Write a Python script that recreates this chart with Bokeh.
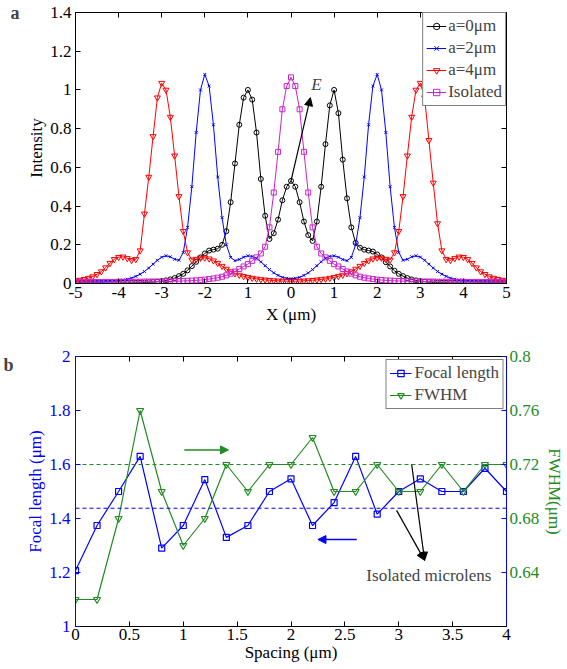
import numpy as np
from bokeh.plotting import figure
from bokeh.layouts import column
from bokeh.models import (Range1d, LinearAxis, FixedTicker, CustomJSTickFormatter,
                          Legend, LegendItem, Label, Arrow, NormalHead)
from bokeh.embed import file_html
from bokeh.resources import INLINE

FONT = "Liberation Serif"
FS = "17px"
GREEN = "#228b22"
BLUE = "#0000ff"
MAGENTA = "#cc22cc"

# ---------------- panel a data ----------------
x_pos = np.round(np.linspace(-5.0, 5.0, 101), 2)

i_a0 = [0.002, 0.002, 0.002, 0.002, 0.002, 0.002, 0.002, 0.002, 0.002, 0.002,
        0.002, 0.003, 0.003, 0.003, 0.004, 0.004, 0.005, 0.006, 0.007, 0.009,
        0.012, 0.016, 0.021, 0.028, 0.038, 0.05, 0.068, 0.09, 0.112, 0.135,
        0.155, 0.17, 0.175, 0.18, 0.20, 0.27, 0.42, 0.62, 0.82, 0.96,
        1.00, 0.95, 0.78, 0.54, 0.35, 0.23, 0.26, 0.33, 0.43, 0.50,
        0.53,
        0.50, 0.42, 0.32, 0.25, 0.22, 0.32, 0.50, 0.72, 0.92, 1.00,
        0.88, 0.64, 0.44, 0.29, 0.21, 0.185, 0.175, 0.17, 0.165, 0.15,
        0.135, 0.11, 0.088, 0.066, 0.05, 0.038, 0.028, 0.021, 0.016, 0.012,
        0.009, 0.007, 0.006, 0.005, 0.004, 0.004, 0.003, 0.003, 0.003, 0.002,
        0.002, 0.002, 0.002, 0.002, 0.002, 0.002, 0.002, 0.002, 0.002, 0.002]

i_a2 = [0.008, 0.008, 0.008, 0.009, 0.009, 0.010, 0.010, 0.011, 0.012, 0.013,
        0.015, 0.018, 0.022, 0.028, 0.037, 0.048, 0.062, 0.08, 0.10, 0.12,
        0.136, 0.143, 0.138, 0.125, 0.12, 0.16, 0.29, 0.50, 0.78, 1.00,
        1.08, 1.02, 0.82, 0.55, 0.34, 0.20, 0.135, 0.118, 0.124, 0.136,
        0.143, 0.14, 0.13, 0.112, 0.092, 0.072, 0.055, 0.042, 0.032, 0.027,
        0.025,
        0.027, 0.032, 0.042, 0.055, 0.072, 0.092, 0.112, 0.13, 0.14, 0.143,
        0.136, 0.124, 0.118, 0.135, 0.20, 0.34, 0.55, 0.82, 1.02, 1.08,
        1.00, 0.78, 0.50, 0.29, 0.16, 0.12, 0.125, 0.138, 0.143, 0.136,
        0.12, 0.10, 0.08, 0.062, 0.048, 0.037, 0.028, 0.022, 0.018, 0.015,
        0.013, 0.012, 0.011, 0.010, 0.010, 0.009, 0.009, 0.008, 0.008, 0.008]

i_a4 = [0.015, 0.018, 0.022, 0.028, 0.036, 0.048, 0.062, 0.082, 0.105, 0.125,
        0.136, 0.138, 0.13, 0.12, 0.125, 0.17, 0.36, 0.55, 0.76, 0.96,
        1.035, 1.00, 0.86, 0.66, 0.45, 0.27, 0.16, 0.122, 0.126, 0.132,
        0.133, 0.128, 0.118, 0.105, 0.09, 0.075, 0.062, 0.052, 0.044, 0.037,
        0.032, 0.028, 0.024, 0.021, 0.019, 0.017, 0.015, 0.014, 0.013, 0.012,
        0.012,
        0.012, 0.013, 0.014, 0.015, 0.017, 0.019, 0.021, 0.024, 0.028, 0.032,
        0.037, 0.044, 0.052, 0.062, 0.075, 0.09, 0.105, 0.118, 0.128, 0.133,
        0.132, 0.126, 0.122, 0.16, 0.27, 0.45, 0.66, 0.86, 1.00, 1.035,
        0.96, 0.74, 0.52, 0.31, 0.17, 0.125, 0.12, 0.13, 0.138, 0.136,
        0.125, 0.105, 0.082, 0.062, 0.048, 0.036, 0.028, 0.022, 0.018, 0.015]

i_iso = [0.008, 0.008, 0.008, 0.008, 0.008, 0.008, 0.008, 0.008, 0.008, 0.008,
         0.009, 0.009, 0.009, 0.009, 0.009, 0.009, 0.010, 0.010, 0.010, 0.010,
         0.010, 0.011, 0.011, 0.012, 0.012, 0.013, 0.014, 0.015, 0.016, 0.018,
         0.02, 0.023, 0.026, 0.03, 0.035, 0.042, 0.051, 0.062, 0.075, 0.088,
         0.10, 0.117, 0.135, 0.155, 0.19, 0.29, 0.47, 0.68, 0.90, 1.02,
         1.065,
         1.02, 0.90, 0.68, 0.47, 0.29, 0.19, 0.155, 0.135, 0.117, 0.10,
         0.088, 0.075, 0.062, 0.051, 0.042, 0.035, 0.03, 0.026, 0.023, 0.02,
         0.018, 0.016, 0.015, 0.014, 0.013, 0.012, 0.012, 0.011, 0.011, 0.010,
         0.010, 0.010, 0.010, 0.009, 0.009, 0.009, 0.009, 0.009, 0.009, 0.009,
         0.008, 0.008, 0.008, 0.008, 0.008, 0.008, 0.008, 0.008, 0.008, 0.008]

x_ticks_a = [-5, -4, -3, -2, -1, 0, 1, 2, 3, 4, 5]
y_ticks_a = [0, 0.2, 0.4, 0.6, 0.8, 1.0, 1.2, 1.4]

# ---------------- panel b data ----------------
spacing = [0.0, 0.2, 0.4, 0.6, 0.8, 1.0, 1.2, 1.4, 1.6, 1.8, 2.0,
           2.2, 2.4, 2.6, 2.8, 3.0, 3.2, 3.4, 3.6, 3.8, 4.0]
focal_length = [1.207, 1.374, 1.50, 1.63, 1.29, 1.374, 1.544, 1.33, 1.374, 1.50, 1.547,
                1.374, 1.459, 1.63, 1.416, 1.50, 1.547, 1.50, 1.50, 1.586, 1.50]
fwhm = [0.62, 0.62, 0.68, 0.76, 0.70, 0.66, 0.68, 0.72, 0.70, 0.72, 0.72,
        0.74, 0.70, 0.70, 0.72, 0.70, 0.70, 0.72, 0.70, 0.72, 0.72]
iso_focal = 1.438
iso_fwhm = 0.72
x_ticks_b = [0, 0.5, 1, 1.5, 2, 2.5, 3, 3.5, 4]
yl_ticks_b = [1, 1.2, 1.4, 1.6, 1.8, 2]
yr_ticks_b = [0.64, 0.68, 0.72, 0.76, 0.8]

# panel-letter anchor heights (annotation placement)
panel_a_at = [1.4]
panel_b_at = [1.967]

FMT = CustomJSTickFormatter(code="return String(Math.round(tick*100)/100);")
FMT_X_A = CustomJSTickFormatter(code="return tick == -1 ? '1' : String(tick);")
EMPTY = CustomJSTickFormatter(code="return '';")


def style_axis(ax, color="black", tick_standoff=4, label_standoff=1):
    ax.major_label_text_font = FONT
    ax.major_label_text_font_size = FS
    ax.major_label_text_color = color
    ax.axis_label_text_font = FONT
    ax.axis_label_text_font_size = FS
    ax.axis_label_text_font_style = "normal"
    ax.axis_label_text_color = color
    ax.axis_line_color = color
    ax.major_tick_line_color = color
    ax.major_tick_in = 5
    ax.major_tick_out = 0
    ax.minor_tick_line_color = None
    ax.minor_tick_out = 0
    ax.minor_tick_in = 0
    ax.major_label_standoff = tick_standoff
    ax.axis_label_standoff = label_standoff


def blank_axis(ticker, color="black", **kw):
    ax = LinearAxis(ticker=ticker, formatter=EMPTY, **kw)
    ax.major_label_text_font_size = "0px"
    ax.major_label_standoff = 0
    ax.major_tick_in = 5
    ax.major_tick_out = 0
    ax.minor_tick_line_color = None
    ax.minor_tick_out = 0
    ax.axis_line_color = color
    ax.major_tick_line_color = color
    return ax


def letter_axis(letter, at, standoff, **kw):
    ax = LinearAxis(ticker=FixedTicker(ticks=at),
                    formatter=CustomJSTickFormatter(code="return '%s';" % letter), **kw)
    ax.axis_line_color = None
    ax.major_tick_line_color = None
    ax.minor_tick_line_color = None
    ax.major_tick_in = 0
    ax.major_tick_out = 0
    ax.minor_tick_in = 0
    ax.minor_tick_out = 0
    ax.axis_label_standoff = 0
    ax.major_label_text_font = FONT
    ax.major_label_text_font_size = "18px"
    ax.major_label_text_font_style = "bold"
    ax.major_label_standoff = standoff
    return ax


# ---------------- figure a ----------------
p1 = figure(width=567, height=333, x_range=Range1d(-5, 5), y_range=Range1d(0, 1.4),
            output_backend="svg", toolbar_location=None,
            min_border_left=72, min_border_right=58, min_border_top=12, min_border_bottom=50)
p1.grid.visible = False
p1.outline_line_color = "black"
p1.xaxis.ticker = FixedTicker(ticks=x_ticks_a)
p1.xaxis.formatter = FMT_X_A
p1.yaxis.ticker = FixedTicker(ticks=y_ticks_a)
p1.yaxis.formatter = FMT
p1.xaxis.axis_label = "X (μm)"
p1.yaxis.axis_label = "Intensity"
for ax in p1.xaxis:
    style_axis(ax, tick_standoff=3, label_standoff=4)
for ax in p1.yaxis:
    style_axis(ax, tick_standoff=4, label_standoff=1)
p1.add_layout(blank_axis(FixedTicker(ticks=x_ticks_a)), "above")
p1.add_layout(blank_axis(FixedTicker(ticks=y_ticks_a)), "right")
p1.add_layout(letter_axis("a", panel_a_at, 5), "left")

series = [
    ("a=0μm", i_a0, "black", "circle", 5),
    ("a=2μm", i_a2, BLUE, "x", 4),
    ("a=4μm", i_a4, "#ff0000", "inverted_triangle", 6),
    ("Isolated", i_iso, MAGENTA, "square", 5),
]
items = []
for label, ys, col, mk, sz in series:
    ln = p1.line(x_pos, ys, line_color=col, line_width=1)
    sc = p1.scatter(x_pos, ys, marker=mk, size=sz, line_color=col, fill_color=None, line_width=1)
    items.append(LegendItem(label=label, renderers=[ln, sc]))


def style_legend(leg, glyph_w):
    leg.label_text_font = FONT
    leg.label_text_font_size = FS
    leg.glyph_width = glyph_w
    leg.glyph_height = 16
    leg.label_height = 20
    leg.spacing = 2
    leg.padding = 3
    leg.margin = 0
    leg.label_standoff = 2
    leg.border_line_color = "black"
    leg.border_line_width = 1
    leg.background_fill_alpha = 1


leg1 = Legend(items=items, location="top_right")
style_legend(leg1, 20)
p1.add_layout(leg1, "center")

p1.add_layout(Arrow(end=NormalHead(size=8, fill_color="black", line_color="black"),
                    x_start=0.0, y_start=0.53, x_end=0.45, y_end=0.96,
                    line_color="black", line_width=1.2))
p1.add_layout(Label(x=0.47, y=0.98, text="E", text_font=FONT, text_font_size=FS,
                    text_font_style="italic"))

# ---------------- figure b ----------------
p2 = figure(width=567, height=336, x_range=Range1d(0, 4), y_range=Range1d(1, 2),
            output_backend="svg", toolbar_location=None,
            min_border_left=75, min_border_right=56, min_border_top=23, min_border_bottom=43)
p2.grid.visible = False
p2.outline_line_color = "black"
p2.extra_y_ranges = {"fwhm": Range1d(0.6, 0.8)}
p2.xaxis.ticker = FixedTicker(ticks=x_ticks_b)
p2.xaxis.formatter = FMT
p2.yaxis.ticker = FixedTicker(ticks=yl_ticks_b)
p2.yaxis.formatter = FMT
p2.xaxis.axis_label = "Spacing (μm)"
p2.yaxis.axis_label = "Focal length (μm)"
for ax in p2.xaxis:
    style_axis(ax, tick_standoff=2, label_standoff=0)
for ax in p2.yaxis:
    style_axis(ax, color=BLUE, tick_standoff=5, label_standoff=1)
rax = LinearAxis(y_range_name="fwhm", ticker=FixedTicker(ticks=yr_ticks_b), formatter=FMT,
                 axis_label="FWHM(μm)")
style_axis(rax, color=GREEN, tick_standoff=3, label_standoff=3)
rax.axis_line_color = BLUE
rax.major_tick_line_color = BLUE
rax.axis_label_orientation = "vertical"
p2.add_layout(rax, "right")
p2.add_layout(blank_axis(FixedTicker(ticks=x_ticks_b)), "above")
p2.add_layout(letter_axis("b", panel_b_at, 10), "left")

l_f = p2.line(spacing, focal_length, line_color=BLUE, line_width=1.2)
s_f = p2.scatter(spacing, focal_length, marker="square", size=6, line_color=BLUE,
                 fill_color=None, line_width=1.2)
l_w = p2.line(spacing, fwhm, y_range_name="fwhm", line_color=GREEN, line_width=1.2)
s_w = p2.scatter(spacing, fwhm, y_range_name="fwhm", marker="inverted_triangle", size=7,
                 line_color=GREEN, fill_color=None, line_width=1.2)
p2.line([spacing[0], spacing[-1]], [iso_focal, iso_focal], line_color=BLUE,
        line_dash="4 3", line_width=1)
p2.line([spacing[0], spacing[-1]], [iso_fwhm, iso_fwhm], y_range_name="fwhm",
        line_color=GREEN, line_dash="4 3", line_width=1)

leg2 = Legend(items=[LegendItem(label="Focal length", renderers=[l_f, s_f]),
                     LegendItem(label="FWHM", renderers=[l_w, s_w])],
              location="top_right")
style_legend(leg2, 22)
leg2.label_standoff = 3
leg2.margin = 3
p2.add_layout(leg2, "center")

p2.add_layout(Arrow(end=NormalHead(size=8, fill_color=GREEN, line_color=GREEN),
                    x_start=1.01, y_start=1.654, x_end=1.42, y_end=1.654,
                    line_color=GREEN, line_width=1.5))
p2.add_layout(Arrow(end=NormalHead(size=8, fill_color=BLUE, line_color=BLUE),
                    x_start=2.61, y_start=1.322, x_end=2.25, y_end=1.322,
                    line_color=BLUE, line_width=1.5))
p2.add_layout(Arrow(end=NormalHead(size=8, fill_color="black", line_color="black"),
                    x_start=3.12, y_start=1.60, x_end=3.24, y_end=1.245,
                    line_color="black", line_width=1.2))
p2.add_layout(Arrow(end=NormalHead(size=8, fill_color="black", line_color="black"),
                    x_start=2.98, y_start=1.43, x_end=3.24, y_end=1.245,
                    line_color="black", line_width=1.2))
p2.add_layout(Label(x=3.28, y=1.19, text="Isolated microlens", text_font=FONT,
                    text_font_size=FS, text_align="center", text_baseline="middle"))

layout = column(p1, p2, spacing=0)
open("out.html", "w").write(file_html(layout, INLINE))
